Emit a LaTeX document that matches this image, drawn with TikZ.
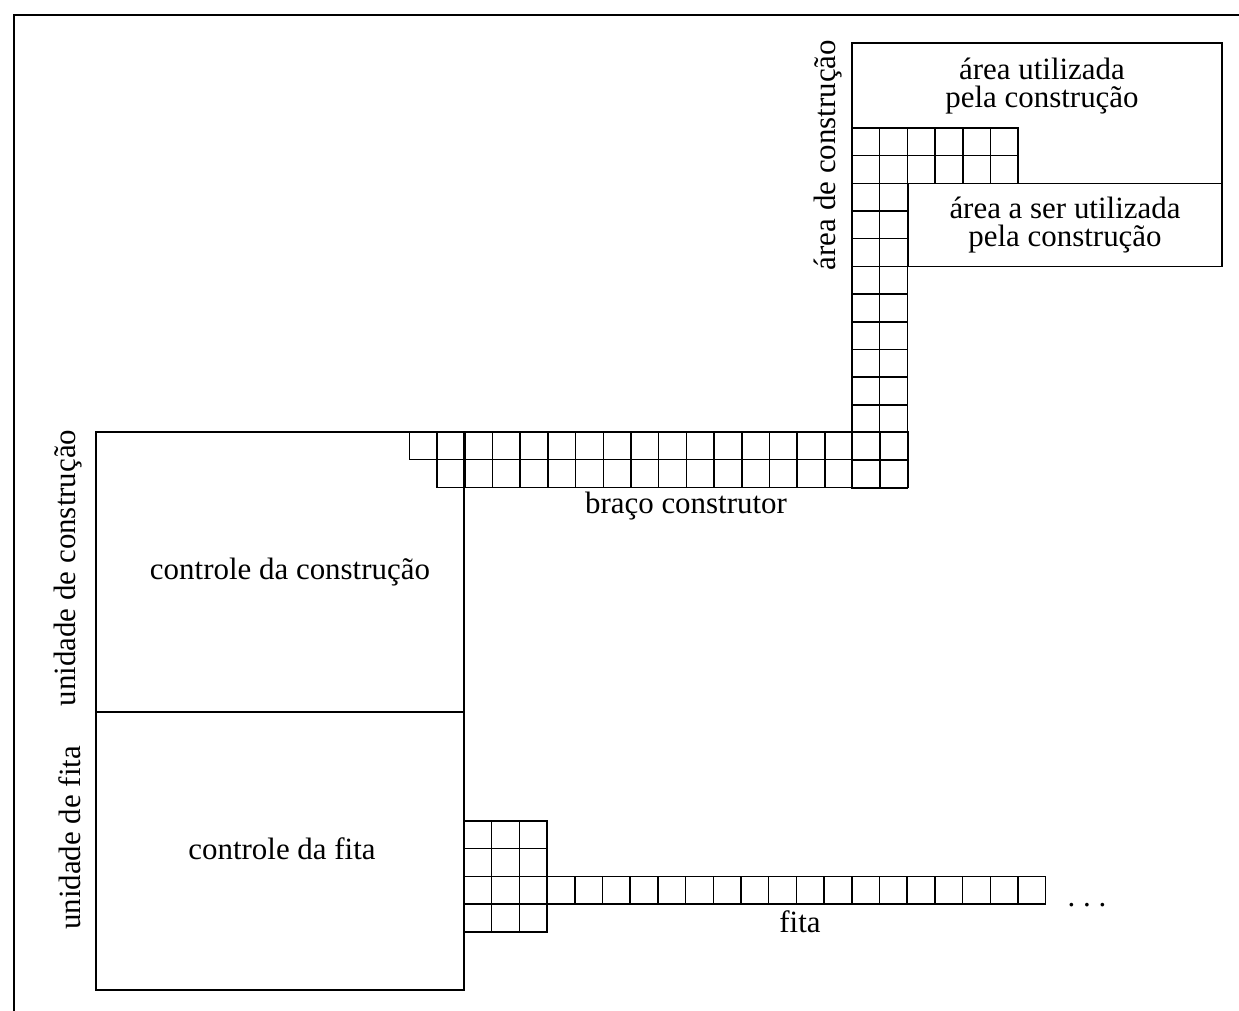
\documentclass[tikz,border=0pt]{standalone}
\usepackage{fontspec}
\setmainfont{Liberation Serif}
\usepackage{tikz}
\usetikzlibrary{positioning,calc}

\tikzset{
  linha/.style={draw=black,line width=1.1pt},
  celula/.style={draw=black,line width=1.1pt},
  rotulo/.style={font=\fontsize{22}{20}\selectfont,align=center,inner sep=0pt},
}
\newcommand{\cs}{27.7}

\begin{document}
\begin{tikzpicture}[x=0.025cm,y=-0.025cm]
    \useasboundingbox (0,0) rectangle (1239,1011);
    % moldura (cortada a direita e em baixo)
    \draw[linha] (1239,15) -- (14,15) -- (14,1011);

    % unidade de construcao / unidade de fita
    \draw[linha] (96,432) rectangle (464,990);
    \draw[linha] (96,712) -- (464,712);
    \node[rotulo] (ctrlcon) at (290,572) {controle da construção};
    \node[rotulo] (ctrlfita) at (282,849) {controle da fita};
    \node[rotulo,rotate=90] (unicon) at (68,568) {unidade de construção};
    \node[rotulo,rotate=90] (unifita) at (70,838) {unidade de fita};

    % braco construtor
    \foreach \i in {1,...,18}
      \draw[celula] ({908-\i*\cs},432) rectangle +(\cs,\cs);
    \foreach \i in {1,...,17}
      \draw[celula] ({908-\i*\cs},{432+\cs}) rectangle +(\cs,\cs);
    \node[rotulo] (braco) at (686,506) {braço construtor};

    % coluna vertical ate a area de construcao
    \foreach \j in {1,...,13}
      \foreach \i in {0,1}
        \draw[celula] ({852+\i*\cs},{488-\j*\cs}) rectangle +(\cs,\cs);
    \foreach \j in {12,13}
      \foreach \i in {2,...,5}
        \draw[celula] ({852+\i*\cs},{488-\j*\cs}) rectangle +(\cs,\cs);

    % area de construcao
    \draw[linha] (852,43) rectangle (1222,{488-11*\cs});
    \draw[linha] (908,{488-11*\cs}) rectangle (1222,{488-8*\cs});
    \node[rotulo] (usada) at (1042,86) {área utilizada\\pela construção};
    \node[rotulo] (ausar) at (1065,225) {área a ser utilizada\\pela construção};
    \node[rotulo,rotate=90] (areacon) at (828,155) {área de construção};

    % fita
    \foreach \j in {0,...,3}
      \foreach \i in {0,1,2}
        \draw[celula] ({464+\i*\cs},{821+\j*\cs}) rectangle +(\cs,\cs);
    \foreach \i in {3,...,20}
      \draw[celula] ({464+\i*\cs},{821+2*\cs}) rectangle +(\cs,\cs);
    \node[rotulo] (fita) at (800,922) {fita};
    \node[rotulo,anchor=base] (pontos) at (1087,906) {.\ .\ .};
\end{tikzpicture}
\end{document}
